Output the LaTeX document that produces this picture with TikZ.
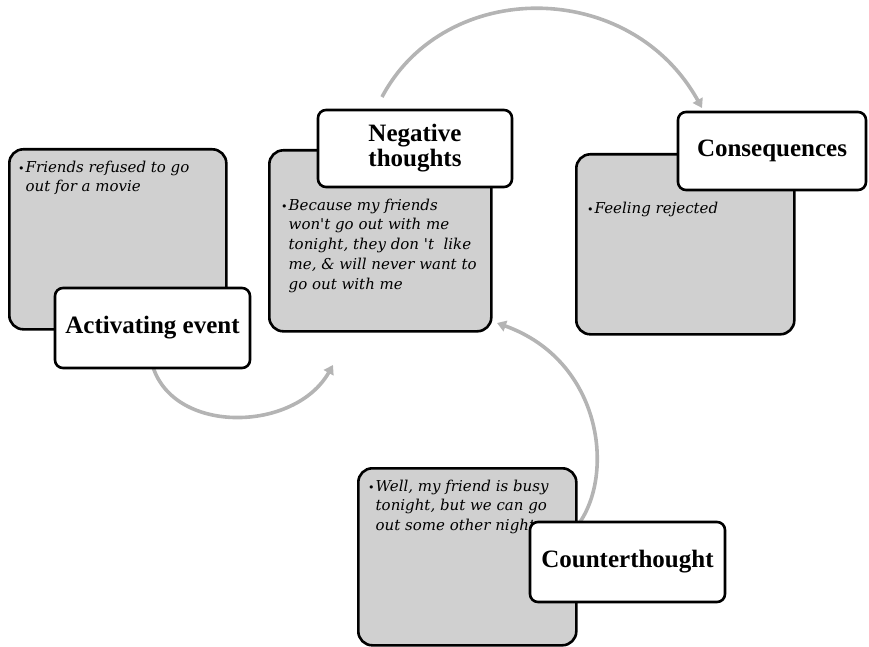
\documentclass[tikz,border=0pt]{standalone}
\usepackage{fontspec}
\setmainfont{Liberation Serif}
\newfontfamily\notefont{DejaVu Serif}
\usetikzlibrary{arrows.meta}
\definecolor{panelgray}{HTML}{D0D0D0}
\definecolor{flowgray}{HTML}{B4B4B4}
\newcommand{\notebullet}{\makebox[7.5pt][l]{\fontsize{11}{11}\selectfont\textbullet}}
\tikzset{
  panel/.style={draw=black, line width=2.6pt, fill=panelgray, rounded corners=14pt,
    anchor=north west, inner sep=0pt},
  tag/.style={draw=black, line width=2.6pt, fill=white, rounded corners=8pt,
    font=\fontsize{25}{25}\selectfont\bfseries, align=center, inner sep=0pt},
  note/.style={anchor=base west, inner sep=0pt,
    font=\notefont\itshape\fontsize{15}{19.8}\selectfont},
  flow/.style={draw=flowgray, line width=3.6pt, -{Triangle[length=9pt,width=11pt]}},
}
\begin{document}
\begin{tikzpicture}[x=1pt,y=-1pt]
\useasboundingbox (0,0) rectangle (869,647);

% curved arrows of the cycle
\coordinate (f1s) at (153,367);
\coordinate (f1e) at (333,365);
\coordinate (f2s) at (382,97);
\coordinate (f2e) at (702,108);
\coordinate (f3s) at (580,522);
\coordinate (f3e) at (497,323);
\draw[flow] (f1s) .. controls (175,435) and (295,432) .. (f1e);
\draw[flow] (f2s) .. controls (445,-22) and (630,-22) .. (f2e);
\draw[flow] (f3s) .. controls (615,470) and (600,360) .. (f3e);

% gray panels
\node[panel, minimum width=217pt, minimum height=180pt] (actpanel) at (8,148) {};
\node[panel, minimum width=222pt, minimum height=181pt] (negpanel) at (268,149) {};
\node[panel, minimum width=218pt, minimum height=180pt] (conpanel) at (575,153) {};
\node[panel, minimum width=218pt, minimum height=177pt] (cntpanel) at (357,467) {};

% panel notes
\node[note] (actnote) at (18,172) {\notebullet\parbox[t]{220pt}{Friends refused to go\\out for a movie}};
\node[note] (negnote) at (281,210) {\notebullet\parbox[t]{220pt}{Because my friends\\won't go out with me\\tonight, they don 't\ \ like\\me, \& will never want to\\go out with me}};
\node[note] (connote) at (587,213) {\notebullet\parbox[t]{220pt}{Feeling rejected}};
\node[note] (cntnote) at (368,491) {\notebullet\parbox[t]{220pt}{Well, my friend is busy\\tonight, but we can go\\out some other night}};

% title tags
\node[tag, minimum width=195pt, minimum height=80pt] (acttag) at (152.5,328) {Activating event};
\node[tag, minimum width=194pt, minimum height=77pt] (negtag) at (415,148.5) {Negative\\thoughts};
\node[tag, minimum width=188pt, minimum height=78pt] (contag) at (772,151) {Consequences};
\node[tag, minimum width=195pt, minimum height=80pt] (cnttag) at (627.5,562) {Counterthought};
\end{tikzpicture}
\end{document}
